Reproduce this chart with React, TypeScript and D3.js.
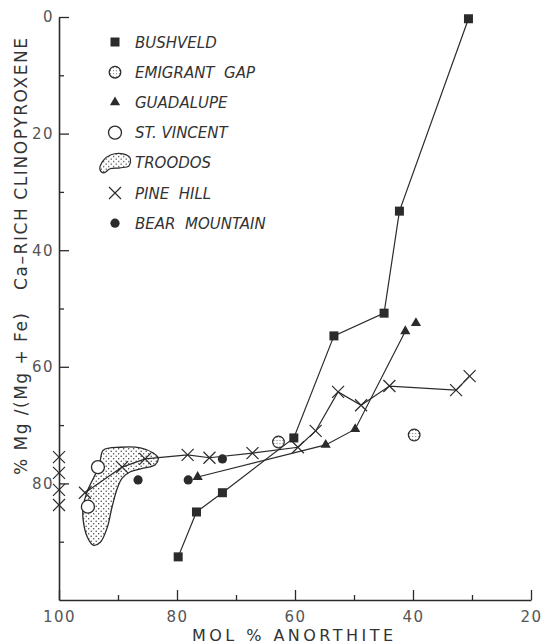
import { useEffect, useRef } from "react";
import * as d3 from "d3";

// axis ticks
const xTicks = [100, 80, 60, 40, 20];
const xMinor = [90, 70, 50, 30];
const yTicks = [0, 20, 40, 60, 80];
const yMinor = [10, 30, 50, 70, 90];

// [mol % anorthite, % Mg/(Mg+Fe)]
const bushveld = [
  [79.8, 92.6], [76.7, 84.9], [72.3, 81.6], [60.2, 72.2],
  [53.4, 54.7], [44.9, 50.8], [42.3, 33.3], [30.6, 0.3],
];
const guadalupeLine = [[76.5, 78.9], [54.8, 73.4], [49.8, 70.7], [41.3, 53.9]];
const guadalupeLone = [[39.5, 52.5]];
const emigrantGap = [[62.8, 72.9], [39.8, 71.7]];
const stVincent = [[93.4, 77.2], [95.1, 84.0]];
const bearMountain = [[86.6, 79.4], [78.1, 79.4], [72.3, 75.8]];
const pineHillAxis = [[100, 75.5], [100, 78.2], [100, 81.1], [100, 83.7]];
const pineHillLine = [
  [95.6, 81.6], [89.3, 77.2], [85.4, 75.8], [78.2, 75.1], [74.5, 75.6],
  [67.2, 74.8], [59.5, 73.8], [56.5, 71.0], [52.7, 64.3], [48.8, 66.6],
  [44.0, 63.3], [32.7, 64.0], [30.4, 61.6],
];
const troodos = [
  [92.5, 74.3], [89.6, 73.8], [86.2, 73.9], [84.0, 74.8], [83.2, 75.6],
  [83.7, 76.8], [85.7, 77.4], [87.9, 78.0], [89.3, 79.1], [90.1, 80.8],
  [91.0, 84.0], [91.8, 87.5], [93.0, 90.1], [94.2, 90.6], [95.2, 89.2],
  [95.9, 86.3], [95.9, 84.0], [95.1, 81.1], [93.5, 77.7], [93.0, 76.0],
];

const legendKeys = ["square", "dotcircle", "triangle", "circle", "blob", "cross", "dot"];
const legendLabels = [
  "BUSHVELD", "EMIGRANT  GAP", "GUADALUPE", "ST. VINCENT",
  "TROODOS", "PINE  HILL", "BEAR  MOUNTAIN",
];

const ink = "#2b2b2b";

export default function App() {
  const ref = useRef(null);

  useEffect(() => {
    draw();
  }, []);

  function draw() {
    const svg = d3.select(ref.current);
    svg.selectAll("*").remove();

    const x = d3.scaleLinear().domain([100, 20]).range([59, 531]);
    const y = d3.scaleLinear().domain([0, 100]).range([17, 600]);

    const defs = svg.append("defs");
    const pat = defs.append("pattern")
      .attr("id", "stipple")
      .attr("patternUnits", "userSpaceOnUse")
      .attr("width", 5)
      .attr("height", 5);
    pat.append("circle").attr("cx", 1.2).attr("cy", 1.2).attr("r", 0.75).attr("fill", "#444");
    pat.append("circle").attr("cx", 3.7).attr("cy", 3.7).attr("r", 0.75).attr("fill", "#444");
    const pat2 = defs.append("pattern")
      .attr("id", "stipple2")
      .attr("patternUnits", "userSpaceOnUse")
      .attr("width", 3)
      .attr("height", 3);
    pat2.append("rect").attr("width", 3).attr("height", 3).attr("fill", "#fff");
    pat2.append("circle").attr("cx", 1.5).attr("cy", 1.5).attr("r", 0.6).attr("fill", "#666");

    // axes
    const font = "'DejaVu Sans', sans-serif";
    const styleAxis = (g, labels) => {
      g.select(".domain").attr("stroke", ink).attr("stroke-width", 1.6);
      g.selectAll(".tick line").attr("stroke", ink).attr("stroke-width", 1.3);
      g.selectAll(".tick text")
        .attr("font-family", font)
        .attr("font-size", 15)
        .attr("letter-spacing", 1.5)
        .attr("fill", "#555");
      if (!labels) g.selectAll(".tick text").remove();
    };

    svg.append("g")
      .attr("transform", "translate(0,600)")
      .call(d3.axisBottom(x).tickValues(xMinor).tickSizeInner(-5).tickSizeOuter(0))
      .call(g => { styleAxis(g, false); g.select(".domain").remove(); });
    svg.append("g")
      .attr("transform", "translate(0,600)")
      .call(d3.axisBottom(x).tickValues(xTicks).tickSizeInner(-10).tickSizeOuter(0).tickPadding(11))
      .call(g => styleAxis(g, true));

    svg.append("g")
      .attr("transform", "translate(59,0)")
      .call(d3.axisLeft(y).tickValues(yMinor).tickSizeInner(-5).tickSizeOuter(0))
      .call(g => { styleAxis(g, false); g.select(".domain").remove(); });
    svg.append("g")
      .attr("transform", "translate(59,0)")
      .call(d3.axisLeft(y).tickValues(yTicks).tickSizeInner(-10).tickSizeOuter(0).tickPadding(5))
      .call(g => styleAxis(g, true));

    // axis titles
    svg.append("text")
      .attr("x", 192)
      .attr("y", 641)
      .attr("textLength", 201)
      .attr("font-family", font)
      .attr("font-size", 16)
      .attr("fill", "#333")
      .text("MOL % ANORTHITE");

    const yt = svg.append("g").attr("transform", "translate(27,0) rotate(-90)");
    yt.append("text")
      .attr("x", -475)
      .attr("y", 0)
      .attr("textLength", 162)
      .attr("font-family", font)
      .attr("font-size", 17)
      .attr("fill", "#333")
      .text("% Mg /(Mg + Fe)");
    yt.append("text")
      .attr("x", -290)
      .attr("y", 0)
      .attr("textLength", 252)
      .attr("font-family", font)
      .attr("font-size", 17)
      .attr("fill", "#333")
      .text("Ca\u2013RICH CLINOPYROXENE");

    // Troodos field
    const line = d3.line().x(d => x(d[0])).y(d => y(d[1]));
    svg.append("path")
      .attr("d", line.curve(d3.curveCatmullRomClosed)(troodos))
      .attr("fill", "url(#stipple)")
      .attr("stroke", ink)
      .attr("stroke-width", 1.3);

    const plain = d3.line().x(d => x(d[0])).y(d => y(d[1]));
    [bushveld, guadalupeLine, pineHillLine].forEach(s => {
      svg.append("path")
        .attr("d", plain(s))
        .attr("fill", "none")
        .attr("stroke", ink)
        .attr("stroke-width", 1.2);
    });

    const marker = (kind, cx, cy) => {
      const g = svg.append("g").attr("transform", `translate(${cx},${cy})`);
      if (kind === "square") {
        g.append("rect").attr("x", -4.5).attr("y", -4.5).attr("width", 9).attr("height", 9).attr("fill", ink);
      } else if (kind === "triangle") {
        g.append("path").attr("d", d3.symbol(d3.symbolTriangle).size(45)()).attr("fill", ink);
      } else if (kind === "dot") {
        g.append("circle").attr("r", 4.6).attr("fill", ink);
      } else if (kind === "circle") {
        g.append("circle").attr("r", 6.5).attr("fill", "#fff").attr("stroke", ink).attr("stroke-width", 1.3);
      } else if (kind === "dotcircle") {
        g.append("circle").attr("r", 5.8).attr("fill", "url(#stipple2)").attr("stroke", ink).attr("stroke-width", 1.3);
      } else if (kind === "cross") {
        g.append("path").attr("d", "M-6,-6L6,6M-6,6L6,-6").attr("stroke", ink).attr("stroke-width", 1.2);
      } else if (kind === "blob") {
        const pts = [[-15, 7], [-12, -2], [-4, -8], [8, -9], [15, -5], [14, 3], [5, 5], [-5, 6], [-11, 10]];
        g.append("path")
          .attr("d", d3.line().curve(d3.curveCatmullRomClosed)(pts))
          .attr("fill", "url(#stipple)")
          .attr("stroke", ink)
          .attr("stroke-width", 1.2);
      }
    };

    bushveld.forEach(d => marker("square", x(d[0]), y(d[1])));
    guadalupeLine.concat(guadalupeLone).forEach(d => marker("triangle", x(d[0]), y(d[1])));
    pineHillLine.concat(pineHillAxis).forEach(d => marker("cross", x(d[0]), y(d[1])));
    bearMountain.forEach(d => marker("dot", x(d[0]), y(d[1])));
    emigrantGap.forEach(d => marker("dotcircle", x(d[0]), y(d[1])));
    stVincent.forEach(d => marker("circle", x(d[0]), y(d[1])));

    // legend
    legendLabels.forEach((lab, i) => {
      const cy = 42 + i * 30.2;
      marker(legendKeys[i], 115, cy);
      svg.append("text")
        .attr("x", 135)
        .attr("y", cy + 5.5)
        .attr("font-family", font)
        .attr("font-size", 15)
        .attr("font-style", "italic")
        .attr("fill", "#333")
        .style("white-space", "pre")
        .text(lab);
    });
  }

  return (
    <svg
      ref={ref}
      width={545}
      height={644}
      style={{ position: "absolute", left: 0, top: 0, background: "#fff" }}
    />
  );
}
